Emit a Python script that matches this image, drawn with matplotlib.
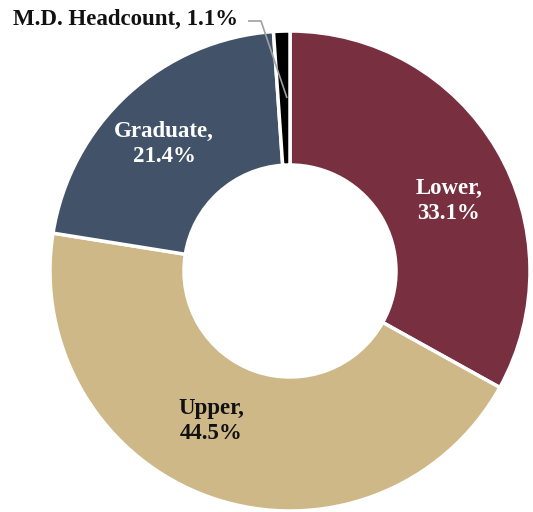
import matplotlib
matplotlib.use("Agg")
import matplotlib.pyplot as plt

categories = ["Lower", "Upper", "Graduate", "M.D. Headcount"]
values = [33.1, 44.5, 21.4, 1.1]
colors = ["#782F40", "#CEB888", "#425369", "#000000"]
text_colors = ["white", "#111111", "white", "#111111"]

W, H = 533, 512
fig = plt.figure(figsize=(W / 100, H / 100), dpi=100)
ax = fig.add_axes([0, 0, 1, 1])

cx, cy = 290, H - 271
R = 240
hole = 106

wedges, _ = ax.pie(values, colors=colors, startangle=90, counterclock=False,
                   center=(cx, cy), radius=R, frame=True,
                   wedgeprops=dict(width=R - hole, edgecolor="white", linewidth=2.5))
ax.set_xlim(0, W)
ax.set_ylim(0, H)
ax.set_aspect("equal")
ax.axis("off")

font = dict(family=["Liberation Serif", "DejaVu Serif"], fontsize=16.5, fontweight="bold")
label_pos = {"Lower": (449, 201), "Upper": (211, 421), "Graduate": (164, 144)}
for cat, val, tc in zip(categories, values, text_colors):
    if cat in label_pos:
        x, y = label_pos[cat]
        ax.text(x, H - y, f"{cat},\n{val}%", ha="center", va="center", color=tc,
                linespacing=1.2, **font)

ax.text(238, H - 19, f"{categories[3]}, {values[3]}%", ha="right", va="center",
        color="#111111", **font)
ax.plot([248, 261, 287], [H - 21, H - 21, H - 98], color="#A0A0A0", lw=1.2,
        solid_capstyle="butt")

fig.savefig("out.png", dpi=100)
